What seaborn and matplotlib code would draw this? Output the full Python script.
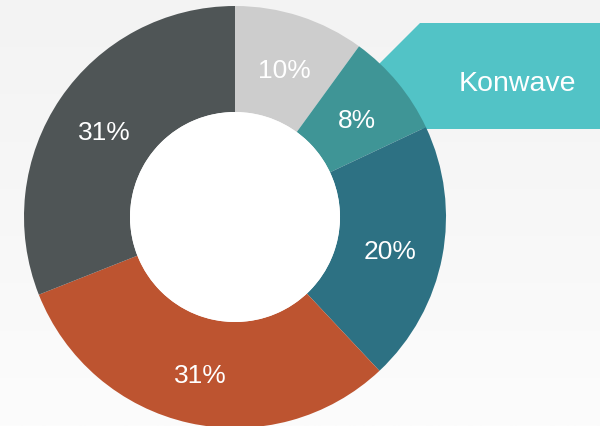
import numpy as np
import matplotlib
matplotlib.use("Agg")
import matplotlib.pyplot as plt
from matplotlib.patches import Polygon
from matplotlib.colors import LinearSegmentedColormap
import seaborn as sns

labels = ["A", "Konwave", "C", "D", "E"]
values = [10, 8, 20, 31, 31]
colors = ["#cdcdcd", "#3f9596", "#2d7183", "#bd5430", "#4f5556"]
callout_text = "Konwave"

sns.set_theme(style="white")
plt.rcParams['font.family'] = ['Liberation Sans', 'DejaVu Sans']

W, H = 600, 427
fig = plt.figure(figsize=(6, 4.27), dpi=100)
ax = fig.add_axes([0, 0, 1, 1])

# background gradient (darker at top)
grad = np.linspace(0, 1, 256).reshape(-1, 1)
cm = LinearSegmentedColormap.from_list("bg", ["#f3f3f3", "#fcfcfc"])
ax.imshow(grad, extent=[0, W, 0, H], origin="upper", cmap=cm, aspect="auto", zorder=0)

# callout box (behind pie)
box = Polygon([(367, H - 77), (420, H - 24), (600, H - 24), (600, H - 130), (420, H - 130)],
              closed=True, facecolor="#52c3c6", edgecolor="none", zorder=1)
ax.add_patch(box)
ax.text(517, H - 84, callout_text, color="white", fontsize=20.5, ha="center", va="center", zorder=5)

center = (235, H - 218)
R = 211
wedges, texts, autotexts = ax.pie(values, colors=colors, startangle=90, counterclock=False,
                                  center=center, radius=R, autopct="%d%%", pctdistance=0.75,
                                  wedgeprops=dict(width=R - 105, edgecolor="none"),
                                  textprops=dict(color="white", fontsize=19), frame=True)
for w in wedges:
    w.set_zorder(2)
for t in autotexts:
    x, y = t.get_position()
    t.set_position((x, y - 4))
    t.set_zorder(4)

ax.set_xlim(0, W)
ax.set_ylim(0, H)
ax.set_aspect("auto")
ax.set_axis_off()

hole = plt.Circle(center, 105, facecolor="white", edgecolor="none", zorder=3)
ax.add_patch(hole)

fig.savefig("out.png", dpi=100)
